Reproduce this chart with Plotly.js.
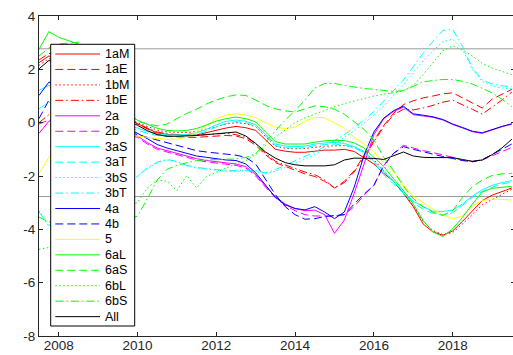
<!DOCTYPE html>
<html>
<head>
<meta charset="utf-8">
<script src="https://cdn.plot.ly/plotly-3.0.1.min.js"></script>
<style>html,body{margin:0;padding:0;overflow:hidden;background:#fff;}#chart{width:515px;height:355px;}</style>
</head>
<body>
<div id="chart"></div>
<script>
// ---- data ----
const years = [2007.5, 2007.75, 2008, 2008.5, 2009, 2009.5,
  2010, 2010.25, 2010.5, 2010.75, 2011, 2011.25, 2011.5, 2011.75,
  2012, 2012.25, 2012.5, 2012.75, 2013, 2013.25, 2013.5, 2013.75,
  2014, 2014.25, 2014.5, 2014.75, 2015, 2015.25, 2015.5, 2015.75,
  2016, 2016.25, 2016.5, 2016.75, 2017, 2017.25, 2017.5, 2017.75,
  2018, 2018.25, 2018.5, 2018.75, 2019, 2019.25, 2019.5];

const names = ['1aM','1aE','1bM','1bE','2a','2b','3aS','3aT','3bS','3bT','4a','4b','5','6aL','6aS','6bL','6bS','All'];

const v1aM = [2.25,2.5,2.4,1.8,1.0,0.4,
  -0.04,-0.22,-0.39,-0.44,-0.46,-0.47,-0.46,-0.37,-0.29,-0.2,-0.14,-0.19,-0.29,-0.66,-1.0,-1.07,
  -1.11,-1.11,-1.06,-1.03,-1.03,-1.0,-1.08,-1.3,-1.55,-1.9,-2.2,-2.65,-3.15,-3.8,-4.1,-4.22,
  -4.06,-3.7,-3.3,-2.92,-2.72,-2.58,-2.45];
const v1aE = [2.35,2.6,2.5,1.9,1.1,0.45,
  -0.05,-0.25,-0.42,-0.5,-0.53,-0.55,-0.55,-0.53,-0.5,-0.48,-0.5,-0.6,-0.85,-1.2,-1.5,-1.65,
  -1.8,-1.92,-2.02,-2.2,-2.45,-2.2,-1.8,-1.25,-0.7,-0.1,0.35,0.68,0.82,0.93,1.0,1.08,
  1.12,0.92,0.72,0.55,0.88,1.05,1.25];
const v1bM = [2.15,2.4,2.3,1.7,0.95,0.35,
  0.0,-0.15,-0.28,-0.35,-0.37,-0.37,-0.33,-0.25,-0.15,-0.05,0.0,-0.04,-0.15,-0.52,-0.88,-0.96,
  -0.98,-0.97,-0.92,-0.88,-0.87,-0.86,-0.92,-1.1,-1.4,-1.8,-2.2,-2.65,-3.1,-3.7,-4.05,-4.2,
  -4.12,-3.8,-3.42,-3.08,-2.88,-2.68,-2.5];
const v1bE = [0.0,0.3,0.5,0.5,0.3,0.1,
  -0.05,-0.2,-0.35,-0.42,-0.45,-0.47,-0.47,-0.45,-0.42,-0.4,-0.45,-0.55,-0.78,-1.15,-1.45,-1.6,
  -1.72,-1.85,-1.95,-2.15,-2.45,-2.25,-1.85,-1.3,-0.75,-0.15,0.3,0.5,0.48,0.55,0.65,0.77,
  0.84,0.68,0.5,0.32,0.58,0.85,1.15];
const v2a = [-0.4,0.05,0.2,0.1,-0.1,-0.3,
  -0.5,-0.75,-0.95,-1.05,-1.15,-1.25,-1.35,-1.42,-1.47,-1.5,-1.55,-1.65,-1.95,-2.38,-2.78,-3.05,
  -3.22,-3.3,-3.28,-3.45,-4.15,-3.65,-2.65,-1.55,-0.45,0.15,0.42,0.58,0.3,0.25,0.2,0.1,
  -0.07,-0.2,-0.34,-0.4,-0.27,-0.15,-0.06];
const v2b = [-0.05,0.1,0.2,0.1,-0.1,-0.35,
  -0.55,-0.8,-1.0,-1.1,-1.2,-1.3,-1.4,-1.47,-1.52,-1.55,-1.6,-1.7,-2.0,-2.42,-2.82,-3.1,
  -3.3,-3.45,-3.5,-3.5,-3.5,-3.45,-3.15,-2.72,-2.35,-1.62,-1.15,-0.85,-0.95,-1.05,-1.12,-1.2,
  -1.3,-1.42,-1.45,-1.4,-1.25,-1.1,-0.93];
const v3aS = [1.21,1.4,1.3,0.9,0.4,0.0,
  -0.2,-0.33,-0.42,-0.46,-0.46,-0.44,-0.38,-0.25,-0.08,0.05,0.1,0.05,-0.08,-0.45,-0.8,-0.88,
  -0.9,-0.88,-0.8,-0.76,-0.74,-0.78,-0.9,-1.08,-1.45,-1.82,-2.2,-2.6,-2.95,-3.15,-3.32,-3.33,
  -3.28,-3.05,-2.75,-2.52,-2.35,-2.25,-2.17];
const v3aT = [0.52,0.77,0.7,0.5,0.2,-0.1,
  -0.28,-0.4,-0.48,-0.52,-0.53,-0.5,-0.44,-0.32,-0.16,-0.03,0.04,0.0,-0.14,-0.5,-0.86,-0.94,
  -0.96,-0.94,-0.86,-0.82,-0.8,-0.84,-0.95,-1.12,-1.5,-1.95,-2.3,-2.65,-3.0,-3.25,-3.4,-3.48,
  -3.38,-3.1,-2.8,-2.58,-2.42,-2.3,-2.23];
const v3bS = [-3.3,-3.9,-3.7,-3.1,-2.6,-2.25,
  -2.02,-1.72,-1.5,-1.4,-1.47,-1.62,-1.7,-1.74,-1.78,-1.82,-1.83,-1.8,-1.83,-1.92,-1.82,-1.68,
  -1.53,-1.37,-1.2,-1.0,-0.8,-0.56,-0.3,-0.02,0.28,0.62,1.02,1.42,1.88,2.32,2.7,3.03,
  3.13,2.75,2.0,1.55,1.38,1.3,1.27];
const v3bT = [-3.35,-3.85,-3.6,-3.0,-2.5,-2.2,
  -2.0,-1.7,-1.48,-1.38,-1.45,-1.6,-1.68,-1.72,-1.76,-1.8,-1.8,-1.78,-1.8,-1.88,-1.76,-1.6,
  -1.45,-1.28,-1.1,-0.9,-0.68,-0.45,-0.18,0.1,0.42,0.8,1.2,1.6,2.1,2.6,3.05,3.46,
  3.5,2.86,2.05,1.6,1.45,1.38,1.35];
const v4a = [1.02,1.52,1.4,0.9,0.4,0.0,
  -0.38,-0.6,-0.82,-0.95,-1.05,-1.15,-1.25,-1.3,-1.36,-1.4,-1.42,-1.55,-1.88,-2.35,-2.8,-3.08,
  -3.22,-3.27,-3.15,-3.35,-3.6,-3.35,-2.42,-1.22,-0.35,0.17,0.45,0.62,0.33,0.28,0.22,0.12,
  -0.05,-0.18,-0.32,-0.38,-0.25,-0.14,-0.04];
const v4b = [0.15,0.84,0.8,0.5,0.1,-0.2,
  -0.45,-0.55,-0.65,-0.75,-0.85,-0.95,-1.05,-1.1,-1.15,-1.18,-1.22,-1.3,-1.55,-2.1,-2.7,-3.15,
  -3.45,-3.62,-3.6,-3.52,-3.48,-3.45,-3.05,-2.68,-2.35,-1.6,-1.15,-0.9,-1.0,-1.1,-1.18,-1.27,
  -1.35,-1.42,-1.47,-1.38,-1.2,-1.0,-0.8];
const v5 = [-1.9,-1.3,-0.9,-0.4,-0.3,-0.4,
  -0.48,-0.55,-0.6,-0.62,-0.62,-0.54,-0.36,-0.1,0.15,0.28,0.34,0.28,0.19,0.0,-0.17,-0.22,
  -0.17,0.05,0.2,0.18,0.0,-0.2,-0.55,-0.8,-1.1,-1.5,-1.85,-2.35,-2.75,-3.0,-3.25,-3.45,
  -3.6,-3.5,-3.12,-2.92,-2.86,-2.88,-2.9];
const v6aL = [2.75,3.42,3.2,2.95,1.8,0.7,
  0.09,-0.06,-0.21,-0.29,-0.31,-0.29,-0.22,-0.09,0.06,0.15,0.21,0.15,0.03,-0.35,-0.71,-0.8,
  -0.81,-0.8,-0.73,-0.68,-0.66,-0.67,-0.76,-0.95,-1.3,-1.65,-2.1,-2.55,-3.05,-3.67,-4.1,-4.27,
  -3.98,-3.55,-3.05,-2.6,-2.46,-2.42,-2.39];
const v6aS = [2.5,2.8,2.95,3.02,2.0,0.8,
  0.05,-0.05,-0.12,-0.05,0.15,0.35,0.5,0.7,0.85,0.97,1.04,1.02,0.85,0.65,0.52,0.44,
  0.4,0.52,0.63,0.6,0.5,0.32,0.05,-0.25,-0.65,-1.3,-1.8,-2.38,-2.85,-3.15,-3.36,-3.47,
  -3.3,-2.8,-2.4,-2.15,-1.98,-1.92,-1.9];
const v6bL = [-4.75,-4.68,-4.5,-4.0,-3.5,-3.2,
  -3.0,-2.45,-2.15,-2.2,-2.55,-1.98,-2.45,-2.02,-1.85,-1.7,-1.55,-1.42,-1.2,-0.85,-0.55,-0.28,
  0.0,0.18,0.33,0.46,0.6,0.72,0.82,0.92,1.0,1.07,1.12,1.2,1.4,1.8,2.25,2.7,
  2.88,2.72,2.5,2.22,2.05,1.92,1.8];
const v6bS = [-3.54,-3.72,-3.75,-3.8,-3.85,-3.8,
  -3.5,-2.85,-2.15,-1.75,-1.6,-1.5,-1.42,-1.4,-1.38,-1.38,-1.36,-1.3,-1.17,-0.75,-0.3,0.1,
  0.45,0.85,1.3,1.47,1.47,1.4,1.33,1.28,1.25,1.2,1.17,1.2,1.35,1.53,1.58,1.62,
  1.62,1.55,1.45,1.3,1.12,0.88,0.6];
const vAll = [2.02,2.33,2.2,1.6,0.9,0.3,
  -0.1,-0.3,-0.45,-0.51,-0.51,-0.5,-0.48,-0.45,-0.42,-0.38,-0.35,-0.5,-0.78,-1.1,-1.33,-1.5,
  -1.58,-1.62,-1.62,-1.62,-1.58,-1.4,-1.33,-1.33,-1.34,-1.38,-1.25,-1.1,-1.25,-1.3,-1.31,-1.31,
  -1.31,-1.38,-1.45,-1.4,-1.2,-0.95,-0.62];

const refLevels = [2.77, -2.77];
const xTicks = [2008, 2010, 2012, 2014, 2016, 2018];
const yTicks = [-8, -6, -4, -2, 0, 2, 4];

// ---- styles ----
const seriesValues = [v1aM, v1aE, v1bM, v1bE, v2a, v2b, v3aS, v3aT, v3bS, v3bT, v4a, v4b, v5, v6aL, v6aS, v6bL, v6bS, vAll];
const colors = ['#ff0000','#ff0000','#ff0000','#ff0000','#ff00ff','#ff00ff','#00ffff','#00ffff','#00ffff','#00ffff',
  '#0000ff','#0000ff','#ffff00','#00ff00','#00ff00','#00ff00','#00ff00','#000000'];
const DASH = '8px,4px', DOT = '1.5px,2.5px', DASHDOT = '8px,3px,1.5px,3px';
const dashes = ['solid',DASH,DOT,DASHDOT,'solid',DASH,'solid',DASH,DOT,DASHDOT,'solid',DASH,'solid','solid',DASH,DOT,DASHDOT,'solid'];

const traces = names.map((n, i) => ({
  x: years, y: seriesValues[i], name: n, type: 'scatter', mode: 'lines',
  line: {color: colors[i], width: 1, dash: dashes[i]}, showlegend: false, hoverinfo: 'skip'
}));

// ---- layout geometry (pixels) ----
const W = 515, H = 355, L = 39, T = 16, B = 19;
const PW = W - L, PH = H - T - B;
const pxPerYear = 39.4;
const xr = [2007.5, 2007.5 + PW / pxPerYear];
function xp(px) { return (px - L) / PW; }
function yp(py) { return 1 - (py - T) / PH; }

const shapes = refLevels.map(v => ({
  type: 'line', xref: 'paper', x0: 0, x1: 1, yref: 'y', y0: v, y1: v,
  line: {color: '#9a9a9a', width: 1}, layer: 'below'
}));

// custom legend
shapes.push({type: 'rect', xref: 'paper', yref: 'paper', x0: xp(50.7), x1: xp(134.7), y0: yp(326), y1: yp(44.3),
  fillcolor: '#ffffff', line: {color: '#000000', width: 1}, layer: 'above'});
const annotations = [];
names.forEach((n, i) => {
  const yy = 54 + i * 15.45;
  shapes.push({type: 'line', xref: 'paper', yref: 'paper', x0: xp(55.3), x1: xp(100), y0: yp(yy), y1: yp(yy),
    line: {color: colors[i], width: 1, dash: dashes[i]}, layer: 'above'});
  annotations.push({xref: 'paper', yref: 'paper', x: xp(102.5), y: yp(yy), text: n, showarrow: false,
    xanchor: 'left', yanchor: 'middle', font: {size: 12.5, color: '#000000', family: 'Liberation Sans, Arial, sans-serif'}});
});

const axisCommon = {
  showline: true, linecolor: '#262626', linewidth: 1, mirror: 'ticks',
  ticks: 'inside', ticklen: 4, tickcolor: '#262626', tickwidth: 1,
  showgrid: false, zeroline: false,
  tickfont: {size: 13.5, color: '#262626', family: 'Liberation Sans, Arial, sans-serif'}
};

const layout = {
  width: W, height: H,
  margin: {l: L, r: 0, t: T, b: B, pad: 0},
  paper_bgcolor: '#ffffff', plot_bgcolor: '#ffffff',
  showlegend: false,
  xaxis: Object.assign({}, axisCommon, {range: xr, tickmode: 'array', tickvals: xTicks, ticktext: xTicks.map(String), ticklabelstandoff: -3}),
  yaxis: Object.assign({}, axisCommon, {range: [-8, 4], tickmode: 'array', tickvals: yTicks, ticktext: yTicks.map(String)}),
  shapes: shapes,
  annotations: annotations,
  font: {family: 'Liberation Sans, Arial, sans-serif'}
};

Plotly.newPlot('chart', traces, layout, {staticPlot: true, displayModeBar: false});
</script>
</body>
</html>
